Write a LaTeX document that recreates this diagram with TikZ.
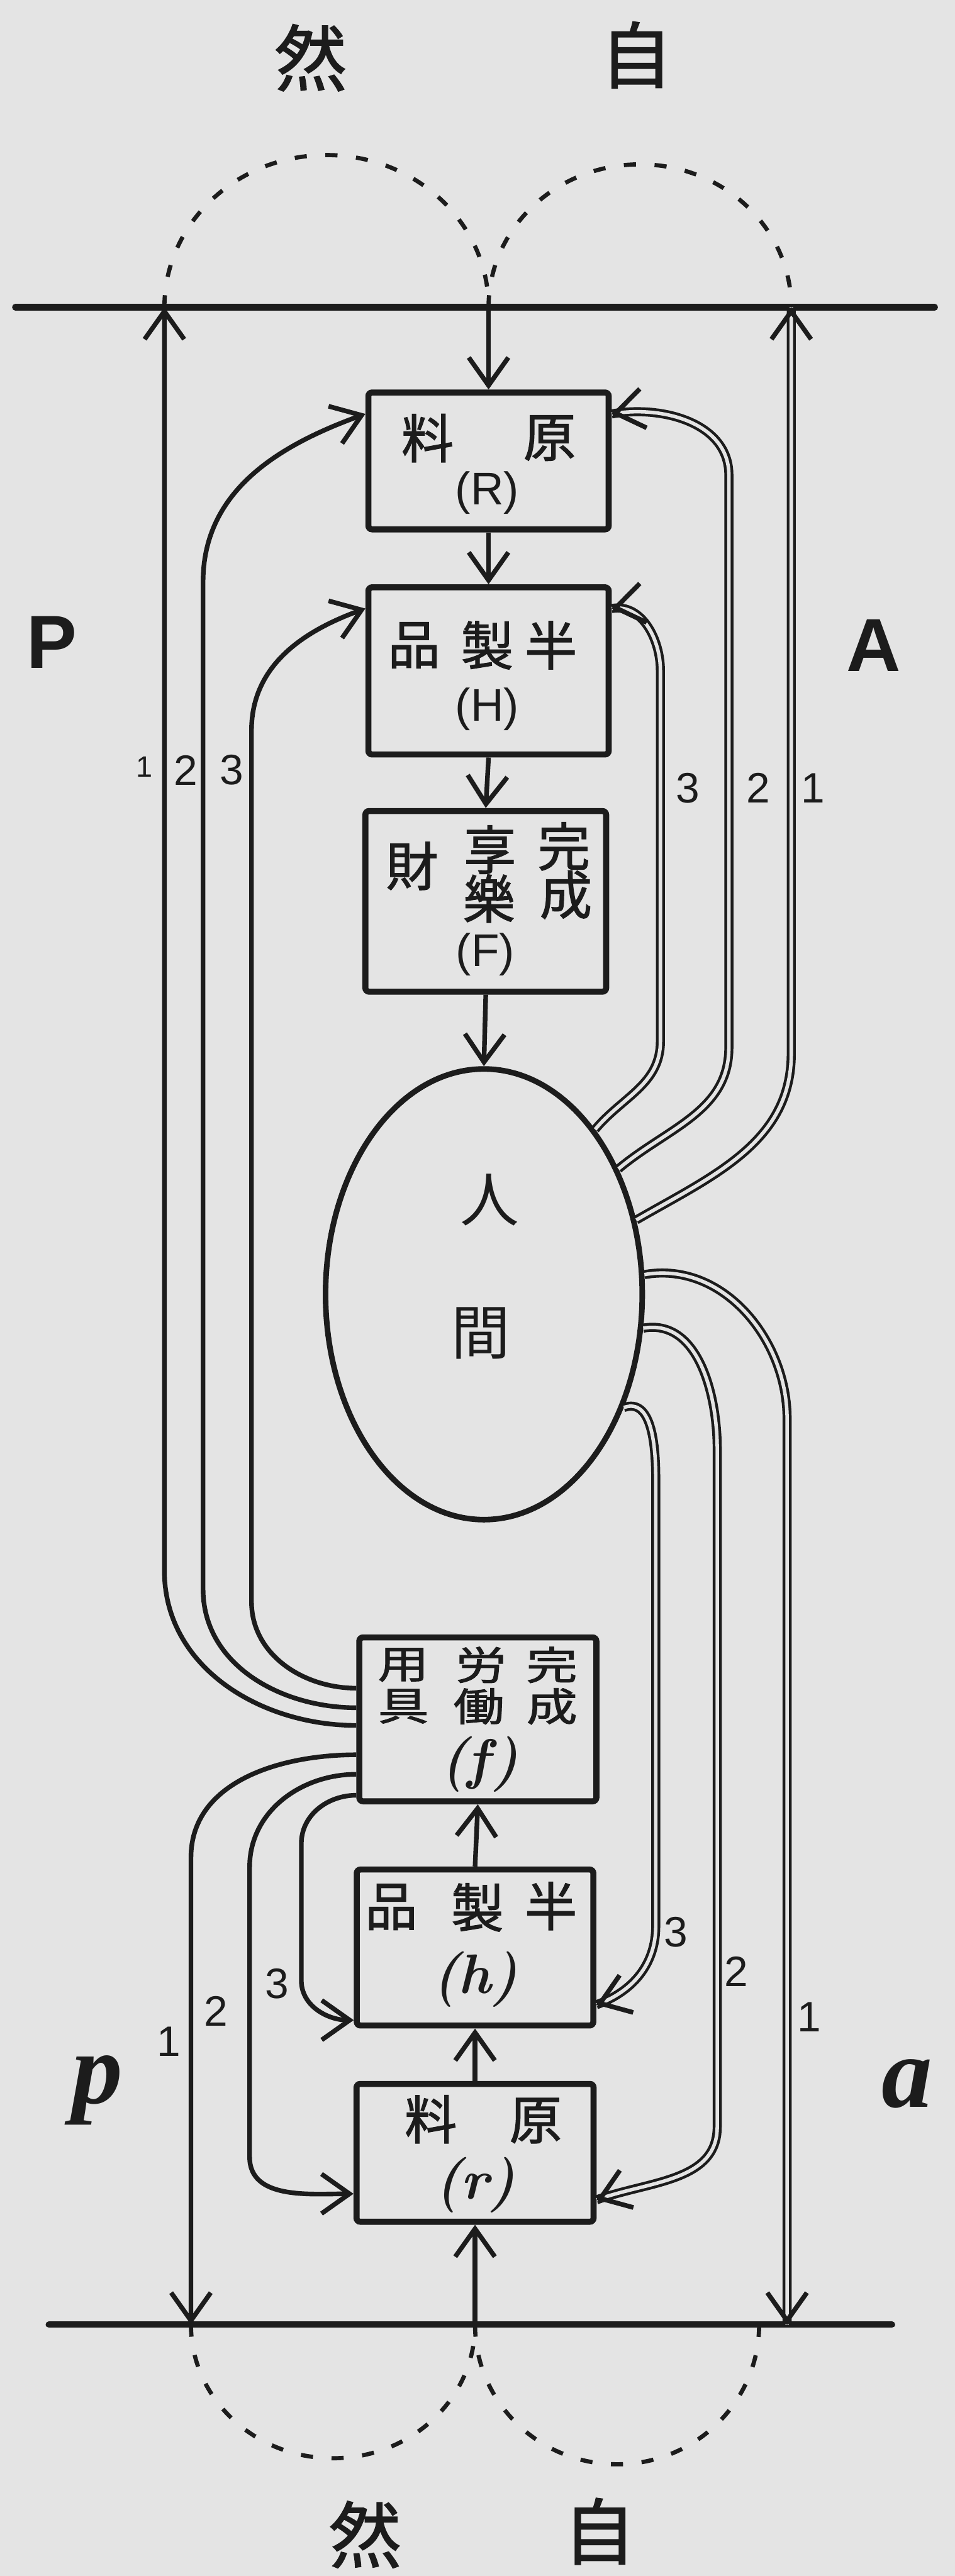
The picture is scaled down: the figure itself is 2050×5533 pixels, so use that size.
\documentclass[tikz,border=0pt]{standalone}
\usepackage{fontspec}
\usetikzlibrary{arrows.meta,calc,shapes.geometric}
\newfontfamily\cjk[FakeBold=1.5]{Noto Sans CJK JP}
\newfontfamily\cjkl{Noto Sans CJK JP}
\newfontfamily\lsans{Liberation Sans}
\newfontfamily\lserif{Liberation Serif}
\definecolor{paper}{RGB}{228,228,228}
\definecolor{ink}{RGB}{28,28,28}
\newcommand\tipat[2]{\draw[tipline] (#1) ++(#2:0.5pt) -- (#1);}
\newcommand\wide[1]{\scalebox{1.3}[1]{#1}}
\begin{document}
\begin{tikzpicture}[x=0.1mm,y=0.1mm,
  box/.style={draw=ink, line width=1.3mm, rounded corners=0.8mm, inner sep=0},
  conn/.style={draw=ink, line width=1mm},
  arr/.style={conn, -{Straight Barb[length=6mm,width=8.5mm]}},
  tipline/.style={draw=ink, line width=1mm, -{Straight Barb[length=6mm,width=8.5mm]}},
  dbl/.style={draw=ink, line width=0.6mm, double=paper, double distance=0.75mm},
  natarc/.style={draw=ink, line width=0.9mm, dash pattern=on 2.6mm off 4mm},
  ground/.style={draw=ink, line width=1.4mm, line cap=round},
  ch/.style={text=ink, font=\cjk\fontsize{32}{32}\selectfont, inner sep=0},
  chs/.style={text=ink, font=\cjk\fontsize{24}{24}\selectfont, inner sep=0},
  big/.style={text=ink, font=\cjk\fontsize{44}{44}\selectfont, inner sep=0},
  man/.style={text=ink, font=\cjkl\fontsize{36}{36}\selectfont, inner sep=0},
  par/.style={text=ink, font=\lsans\fontsize{28}{28}\selectfont, inner sep=0},
  spar/.style={text=ink, font=\fontsize{34}{34}\selectfont\bfseries\itshape, inner sep=0},
  num/.style={text=ink, font=\lsans\fontsize{26}{26}\selectfont, inner sep=0},
  side/.style={text=ink, font=\lsans\fontsize{46}{46}\selectfont\bfseries, inner sep=0},
  iside/.style={text=ink, font=\lserif\fontsize{62}{62}\selectfont\bfseries\itshape, inner sep=0}]
\useasboundingbox (0,0) rectangle (2050,-5533);
\fill[paper] (0,0) rectangle (2050,-5533);

% ground lines and points
\coordinate (TL) at (33,-660);
\coordinate (TR) at (2007,-660);
\coordinate (BL) at (105,-4993);
\coordinate (BR) at (1915,-4993);
\coordinate (P1top) at (353,-660);
\coordinate (Tmid) at (1049,-660);
\coordinate (A1top) at (1699,-660);
\coordinate (p1bot) at (410,-4993);
\coordinate (Bmid) at (1020,-4993);
\coordinate (a1bot) at (1690,-4993);
\draw[ground] (TL) -- (TR);
\draw[ground] (BL) -- (BR);

% nature arcs
\draw[natarc] (P1top) arc[start angle=180, end angle=0, x radius=34.8mm, y radius=32.7mm];
\draw[natarc] (Tmid) arc[start angle=180, end angle=0, x radius=32.5mm, y radius=30.7mm];
\draw[natarc] (p1bot) arc[start angle=180, end angle=360, x radius=30.5mm, y radius=28.7mm];
\draw[natarc] (Bmid) arc[start angle=180, end angle=360, x radius=30.5mm, y radius=30mm];

% labels for nature
\node[big] (nat1) at (667,-124) {然};
\node[big] (nat2) at (1366,-118) {自};
\node[big] (nat3) at (784,-5444) {然};
\node[big] (nat4) at (1287,-5437) {自};

% side letters
\node[side] (Pl) at (111,-1379) {P};
\node[side] (Al) at (1876,-1386) {A};
\node[iside] (pl) at (209,-4489) {p};
\node[iside] (al) at (1947,-4476) {a};

% boxes
\node[box, minimum width=51.6mm, minimum height=29.4mm] (R) at (1049,-990) {};
\node[box, minimum width=51.6mm, minimum height=35.9mm] (H) at (1049,-1441) {};
\node[box, minimum width=51.7mm, minimum height=38.8mm] (F) at (1043,-1936) {};
\node[draw=ink, line width=1.2mm, ellipse, minimum width=68mm, minimum height=96.8mm, inner sep=0] (M) at (1039,-2780) {};
\node[box, minimum width=50.9mm, minimum height=35.2mm] (f) at (1026,-3693) {};
\node[box, minimum width=50.8mm, minimum height=33.5mm] (h) at (1020,-4183) {};
\node[box, minimum width=50.9mm, minimum height=29.6mm] (r) at (1020,-4624) {};

% box texts
\node[ch] (Rt1) at (918,-941) {料};
\node[ch] (Rt2) at (1180,-941) {原};
\node[par] (Rt3) at (1046,-1059) {(R)};
\node[ch] (Ht1) at (889,-1386) {品};
\node[ch] (Ht2) at (1046,-1386) {製};
\node[ch] (Ht3) at (1183,-1386) {半};
\node[par] (Ht4) at (1046,-1523) {(H)};
\node[ch] (Ft1) at (1211,-1818) {完};
\node[ch] (Ft2) at (1215,-1922) {成};
\node[ch] (Ft3) at (1052,-1825) {享};
\node[ch] (Ft4) at (1050,-1930) {樂};
\node[ch] (Ft5) at (885,-1860) {財};
\node[par] (Ft6) at (1042,-2050) {(F)};
\node[man] (Mt1) at (1052,-2577) {人};
\node[man] (Mt2) at (1033,-2864) {間};
\node[chs] (ft1) at (1185,-3576) {\wide{完}};
\node[chs] (ft2) at (1185,-3665) {\wide{成}};
\node[chs] (ft3) at (1033,-3576) {\wide{労}};
\node[chs] (ft4) at (1028,-3665) {\wide{働}};
\node[chs] (ft5) at (866,-3576) {\wide{用}};
\node[chs] (ft6) at (866,-3665) {\wide{具}};
\node[spar] (ft7) at (1030,-3790) {(f)};
\node[ch] (ht1) at (840,-4096) {品};
\node[ch] (ht2) at (1025,-4097) {製};
\node[ch] (ht3) at (1183,-4094) {半};
\node[spar] (ht4) at (1020,-4252) {(h)};
\node[ch] (rt1) at (925,-4552) {料};
\node[ch] (rt2) at (1150,-4555) {原};
\node[spar] (rt3) at (1020,-4693) {(r)};

% main chain
\draw[arr] (Tmid) -- (R.north);
\draw[arr] (R.south) -- (H.north);
\draw[arr] (H.south) -- (F.north);
\draw[arr] (F.south) -- (M.north);
\draw[arr] (Bmid) -- (r.south);
\draw[arr] (r.north) -- (h.south);
\draw[arr] (h.north) -- (f.south);

% left upper lines (from f)
\draw[arr] ([yshift=-1.3mm]f.west) to[out=180,in=-90] (353,-3374) -- (P1top);
\draw[arr] ([yshift=2.5mm]f.west) to[out=180,in=-90] (436,-3413) -- (436,-1250) to[out=90,in=200] ([yshift=10.1mm]R.west);
\draw[arr] ([yshift=6.7mm]f.west) to[out=180,in=-90] (540,-3440) -- (540,-1569) to[out=90,in=200] ([yshift=13.4mm]H.west);

% left lower lines (from f)
\draw[arr] ([yshift=-7.6mm]f.west) to[out=180,in=90] (410,-3990) -- (p1bot);
\draw[arr] ([yshift=-11.8mm]f.west) to[out=180,in=90] (536,-4010) -- (536,-4633) to[out=-90,in=180] ([yshift=-8.8mm]r.west);
\draw[arr] ([yshift=-16.3mm]f.west) to[out=180,in=90] (647,-3960) -- (647,-4254) to[out=-90,in=180] ([yshift=-15.6mm]h.west);

% right upper double lines (from M)
\draw[dbl] (M.56) to[out=50,in=-90] (1418,-2237) -- (1418,-1440) to[out=90,in=10] ([yshift=13.4mm]H.east);
\tipat{[yshift=13.4mm]H.east}{10}
\draw[dbl] (M.43) to[out=40,in=-90] (1565,-2250) -- (1565,-1020) to[out=90,in=10] ([yshift=10.1mm]R.east);
\tipat{[yshift=10.1mm]R.east}{10}
\draw[dbl] (M.26) to[out=30,in=-90] (1699,-2263) -- (A1top);
\tipat{A1top}{-90}

% right lower double lines (from M)
\draw[dbl] (M.7) to[out=10,in=90] (1690,-3047) -- (a1bot);
\tipat{a1bot}{90}
\draw[dbl] (M.-12) to[out=10,in=90] (1540,-3112) -- (1540,-4568) to[out=-90,in=20] ([yshift=-10.1mm]r.east);
\tipat{[yshift=-10.1mm]r.east}{20}
\draw[dbl] (M.-39) to[out=20,in=90] (1408,-3178) -- (1408,-4137) to[out=-90,in=20] ([yshift=-12.3mm]h.east);
\tipat{[yshift=-12.3mm]h.east}{20}

% numbers
\node[num, font=\lsans\fontsize{18}{18}\selectfont] (n1) at (310,-1647) {1};
\node[num] (n2) at (399,-1654) {2};
\node[num] (n3) at (497,-1654) {3};
\node[num] (n4) at (1477,-1693) {3};
\node[num] (n5) at (1628,-1693) {2};
\node[num] (n6) at (1745,-1693) {1};
\node[num] (n7) at (595,-4261) {3};
\node[num] (n8) at (464,-4320) {2};
\node[num] (n9) at (363,-4385) {1};
\node[num] (n10) at (1451,-4150) {3};
\node[num] (n11) at (1581,-4235) {2};
\node[num] (n12) at (1738,-4333) {1};
\end{tikzpicture}
\end{document}
